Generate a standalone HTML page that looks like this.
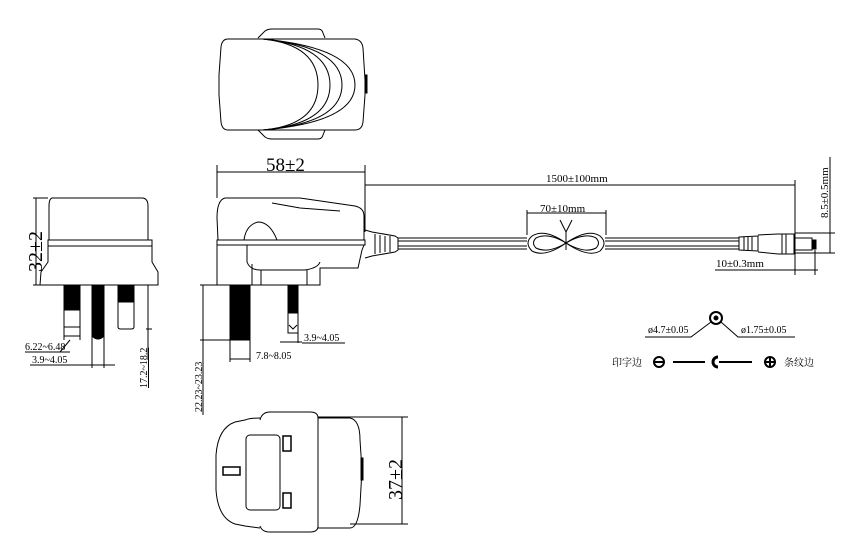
<!DOCTYPE html>
<html><head><meta charset="utf-8"><style>
html,body{margin:0;padding:0;background:#fff;width:850px;height:560px;overflow:hidden}
svg text{font-family:"Liberation Serif","Noto Serif CJK SC",serif;fill:#000;stroke:none}
</style></head><body>
<svg width="850" height="560" viewBox="0 0 850 560" xmlns="http://www.w3.org/2000/svg" fill="none" stroke="#000" stroke-width="1">
<!-- TOP VIEW -->
<path d="M258,38 L265,31 Q268,29 272,29 L318,29 Q322,29 323,33 L325,38"/>
<path d="M258,130 L265,137 Q268,139 272,139 L318,139 Q322,139 323,135 L325,130"/>
<path d="M228,39 L355,39 Q362,40 363,48 L365,80 L365,95 L363,122 Q362,130 355,130 L228,130 Q222,130 221,122 L219,95 L219,75 L221,47 Q222,39 228,39 Z"/>
<path d="M263,39 Q318,45 318,85 Q318,125 263,130"/>
<path d="M263,39 Q330,46 330,85 Q330,124 263,130"/>
<path d="M263,39 Q342,47 342,85 Q342,123 263,130"/>
<path d="M263,39 Q355,48 355,85 Q355,122 263,130"/>
<rect x="365" y="75" width="2" height="18" fill="#000"/>

<!-- FRONT VIEW -->
<path d="M52,198 L143,198 Q148,199 148,206 L148,240 L52,240 L49,240 L49,206 Q49,199 52,198 Z"/>
<rect x="48" y="240" width="104" height="6"/>
<path d="M48,246 L48,262 L41,272 L40,285 L158,285 L158,272 L152,262 L152,246"/>
<rect x="64" y="285" width="16" height="25" fill="#000"/>
<path d="M64,310 L64,327 L80,327 L80,310"/>
<path d="M92,285 L104,285 L104,336 Q98,342 92,336 Z" fill="#000"/>
<rect x="118" y="285" width="16" height="17" fill="#000"/>
<path d="M118,302 L118,327 Q118,329 121,329 L131,329 Q134,329 134,327 L134,302"/>
<!-- dims front -->
<path d="M33,198 L48,198 M33,285 L40,285 M36,198 L36,285"/>
<text font-size="20" transform="translate(42,272) rotate(-90)">32±2</text>
<path d="M146,285 L152,285 M146,329 L152,329 M148,285 L148,360"/>
<text font-size="10" transform="translate(147,388) rotate(-90)" text-decoration="underline">17.2~18.2</text>
<path d="M64,327 L64,340 M80,327 L80,340 M64,336 L80,336 M70,340 L60,352"/>
<text x="25" y="350" font-size="10">6.22~6.48</text>
<path d="M25,352 L70,352"/>
<path d="M92,336 L92,368 M104,336 L104,368 M30,365 L115,365"/>
<text x="32" y="363" font-size="10">3.9~4.05</text>

<!-- SIDE VIEW -->
<path d="M225,198 L300,198 L355,206 Q364,208 364,216 L364,240 L218,240 L217,218 Q217,200 225,198 Z"/>
<path d="M272,203 L300,208 L340,211"/>
<path d="M244,240 Q246,225 258,222 Q270,222 277,240"/>
<rect x="217" y="240" width="148" height="5"/>
<path d="M217,245 L217,285 L320,285 L320,268 L358,268 L362,250 L364,245"/>
<path d="M247,245 L247,262 Q250,270 260,270 L305,270 Q318,268 320,262"/>
<path d="M261,270 L261,285 M307,270 L307,285 M252,264 L252,285"/>
<rect x="230" y="285" width="20" height="55" fill="#000"/>
<rect x="288" y="285" width="10" height="28" fill="#000"/>
<path d="M288,313 L288,333 L298,333 L298,313 M289,325 L293,329 L297,325"/>
<!-- dims side -->
<path d="M217,165 L217,198 M365,165 L365,232 M217,172 L365,172"/>
<text x="266" y="171" font-size="19">58±2</text>
<path d="M200,285 L230,285 M200,340 L230,340 M203,285 L203,415"/>
<text font-size="10" transform="translate(202,412) rotate(-90)">22.23~23.23</text>
<path d="M230,340 L230,362 M250,340 L250,362 M230,359 L250,359"/>
<text x="256" y="359" font-size="10">7.8~8.05</text>
<path d="M298,325 L298,343 M280,342 L302,342 M302,343 L345,343"/>
<text x="304" y="341" font-size="10">3.9~4.05</text>

<!-- CABLE -->
<path d="M365,230 L372,232 L395,236 L398,238 L398,250 L395,252 L372,256 L365,258"/>
<path d="M375,234 L375,254 M380,235 L380,253 M385,236 L385,252 M390,236 L390,252"/>
<path d="M398,238 L527,238 M398,241 L527,241 M398,246 L527,246 M398,249 L527,249"/>
<path d="M605,238 L739,238 M605,241 L739,241 M605,246 L739,246 M605,249 L739,249"/>
<path d="M566,243 Q545,228 532,236 Q524,243 532,251 Q545,258 566,243 Q588,228 600,236 Q608,243 600,251 Q588,258 566,243 Z"/>
<path d="M566,243 Q548,232 536,238 Q531,243 536,248 Q548,254 566,243 Q585,232 596,238 Q601,243 596,248 Q585,254 566,243"/>
<path d="M560,220 L566,232 L572,220 M566,232 L566,250"/>
<!-- plug -->
<path d="M739,237 L758,236 L758,251 L739,250 Z M744,237 L744,250 M748,237 L748,250 M752,237 L752,250"/>
<path d="M758,235 L778,234 L794,234 L794,254 L778,254 L758,252"/>
<path d="M782,234 L782,254 M786,234 L786,254"/>
<path d="M794,238 L812,238 L812,250 L794,250"/>
<rect x="812" y="240" width="4" height="9" fill="#000"/>
<!-- dims cable -->
<path d="M365,185 L795,185 M795,180 L795,275"/>
<text x="546" y="182" font-size="11">1500±100mm</text>
<path d="M527,210 L527,235 M606,210 L606,235 M527,213 L606,213"/>
<text x="540" y="212" font-size="11">70±10mm</text>
<path d="M815,250 L815,275 M795,270 L818,270 M715,270 L795,270"/>
<text x="716" y="267" font-size="11">10±0.3mm</text>
<path d="M795,233 L835,233 M795,253 L835,253 M830,233 L830,253 M830,157 L830,233"/>
<text font-size="11" transform="translate(828,218) rotate(-90)">8.5±0.5mm</text>

<!-- polarity -->
<circle cx="716" cy="318" r="6" stroke-width="2"/>
<circle cx="716" cy="318" r="2" fill="#000"/>
<path d="M645,337 L691,337 L711,322 M721,322 L738,337 L795,337"/>
<text x="648" y="333" font-size="10">ø4.7±0.05</text>
<text x="741" y="333" font-size="10">ø1.75±0.05</text>
<text x="612" y="366" font-size="10">印字边</text>
<circle cx="659" cy="362" r="5" stroke-width="2"/>
<path d="M654,362 L664,362" stroke-width="2"/>
<path d="M673,362 L705,362 M719,362 L752,362" stroke-width="2"/>
<path d="M718,357 A5,5 0 1 0 718,367" stroke-width="3"/>
<circle cx="770" cy="362" r="5" stroke-width="2"/>
<path d="M765,362 L775,362 M770,357 L770,367" stroke-width="2"/>
<text x="784" y="366" font-size="10">条纹边</text>

<!-- BOTTOM VIEW -->
<path d="M318,418 L318,528 M260,420 Q262,412 270,412 L310,412 Q318,412 318,418 M260,526 Q262,532 270,532 L310,532 Q318,532 318,526"/>
<path d="M318,418 L350,418 Q360,420 360,440 L362,470 L360,505 Q358,528 350,528 L318,528"/>
<path d="M260,418 Q250,418 245,420 L235,422 Q218,428 216,455 L216,490 Q218,518 235,524 L245,526 L260,528"/>
<rect x="246" y="435" width="34" height="75" rx="4"/>
<rect x="283" y="436" width="8" height="15" stroke-width="1.5"/>
<rect x="283" y="493" width="8" height="15" stroke-width="1.5"/>
<rect x="223" y="467" width="17" height="8" stroke-width="1.5"/>
<rect x="361" y="458" width="2" height="22" fill="#000"/>
<path d="M318,417 L408,417 M350,524 L408,524 M402,417 L402,524"/>
<text font-size="20" transform="translate(402,500) rotate(-90)">37±2</text>
</svg>
</body></html>
